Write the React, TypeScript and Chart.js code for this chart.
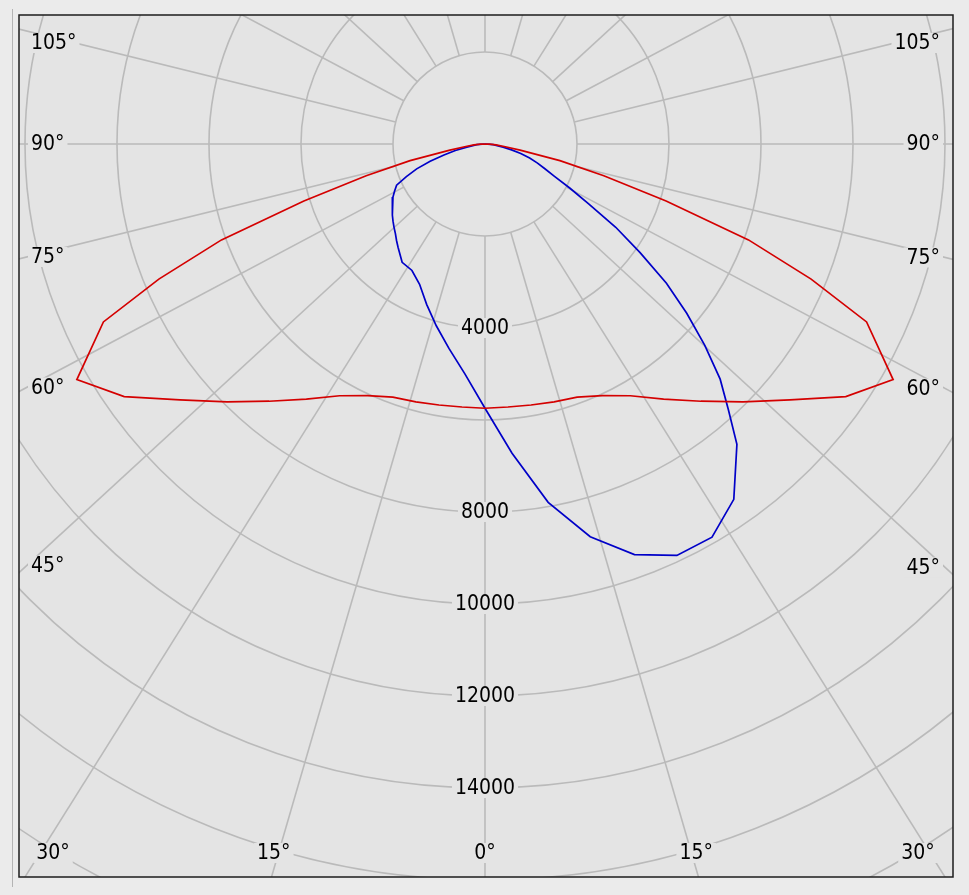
import React, { useEffect, useRef } from "react";
import { Chart, registerables } from "chart.js";

Chart.register(...registerables);

// ---- Data (luminous intensity, cd) ----
// Red plane (C0 / C180), angles from nadir in degrees
const redAngles = [0, 5, 10, 15, 20, 25, 30, 35, 40, 45, 50, 55, 60, 65, 67.5, 70, 72.5, 75, 77.5, 80, 82.5, 85, 87.5, 90];
const redC0 = [5745, 5740, 5762, 5805, 5858, 6035, 6320, 6770, 7300, 7930, 8655, 9575, 10245, 9153, 7674, 6096, 4128, 2674, 1668, 775, 420, 240, 100, 0];
const redC180 = [5745, 5740, 5762, 5805, 5858, 6035, 6320, 6770, 7300, 7930, 8655, 9575, 10245, 9153, 7674, 6096, 4128, 2674, 1668, 775, 420, 240, 100, 0];

// Blue plane (C90 right / C270 left)
const blueAngles = [0, 5, 10, 15, 20, 25, 30, 35, 40, 42.5, 45, 47.5, 50, 52.5, 55, 57.5, 60, 62.5, 65, 67.5, 70, 72.5, 75, 77.5, 80, 85, 90];
const blueC90 = [5745, 6750, 7910, 8840, 9500, 9870, 9870, 9430, 8520, 7830, 7230, 6481, 5725, 4972, 4116, 3370, 2595, 2084, 1667, 1409, 1215, 1018, 805, 592, 400, 180, 0];
const blueC270 = [5745, 5016, 4513, 4091, 3709, 3365, 3175, 3140, 2938, 2846, 2754, 2682, 2610, 2536, 2462, 2386, 2310, 2215, 2120, 1850, 1580, 1250, 923, 660, 400, 180, 0];

// Grid
const ringValues = [2000, 4000, 6000, 8000, 10000, 12000, 14000, 16000, 18000, 20000];
const ringLabelValues = [4000, 8000, 10000, 12000, 14000];
const angleLabels = [0, 15, 30, 45, 60, 75, 90, 105];
const spokeStep = 15;

// Axis extents (cd)
const X_MIN = -10130;
const X_MAX = 10174;
const Y_MIN = -15935;
const Y_MAX = 2804;

// ---- Styles ----
const OUTER_BG = "#ebebeb";
const PLOT_BG = "#e4e4e4";
const GRID_COLOR = "#bababa";
const RED = "#d40000";
const BLUE = "#0000c8";
const FONT = '21px "DejaVu Sans Condensed", "Liberation Sans", Arial, sans-serif';
const GRID_ASPECT = 0.92;
const SIDE_LABEL_ASPECT = 0.905;
const BOTTOM_LABEL_ASPECT = 0.93;

const rad = (d: number) => (d * Math.PI) / 180;

function planePoints(angles: number[], left: number[], right: number[]) {
  const pts: { x: number; y: number }[] = [];
  for (let i = angles.length - 1; i >= 0; i--) {
    const g = rad(angles[i]);
    pts.push({ x: -left[i] * Math.sin(g), y: -left[i] * Math.cos(g) });
  }
  for (let i = 1; i < angles.length; i++) {
    const g = rad(angles[i]);
    pts.push({ x: right[i] * Math.sin(g), y: -right[i] * Math.cos(g) });
  }
  return pts;
}

function boxLabel(ctx: CanvasRenderingContext2D, text: string, x: number, y: number, align: CanvasTextAlign) {
  const w = ctx.measureText(text).width;
  let bx = x - w / 2;
  if (align === "left") bx = x;
  if (align === "right") bx = x - w;
  ctx.fillStyle = PLOT_BG;
  ctx.fillRect(bx - 3, y - 10, w + 6, 20);
  ctx.fillStyle = "#000";
  ctx.textAlign = align;
  ctx.textBaseline = "middle";
  ctx.fillText(text, x, y + 1);
}

const polarGrid = {
  id: "polarGrid",
  beforeDatasetsDraw(chart: any) {
    const { ctx, chartArea: a, scales } = chart;
    const xs = scales.x;
    const ys = scales.y;
    const cx = xs.getPixelForValue(0);
    const cy = ys.getPixelForValue(0);
    const pxPer = (xs.getPixelForValue(1000) - cx) / 1000;

    ctx.save();
    ctx.fillStyle = PLOT_BG;
    ctx.fillRect(a.left, a.top, a.right - a.left, a.bottom - a.top);
    ctx.beginPath();
    ctx.rect(a.left, a.top, a.right - a.left, a.bottom - a.top);
    ctx.clip();

    ctx.strokeStyle = GRID_COLOR;
    ctx.lineWidth = 1.6;
    for (const v of ringValues) {
      ctx.beginPath();
      ctx.arc(cx, cy, v * pxPer, 0, Math.PI * 2);
      ctx.stroke();
    }
    const r0 = ringValues[0] * pxPer;
    for (let deg = 0; deg < 360; deg += spokeStep) {
      const t = rad(deg);
      let dx = Math.sin(t);
      let dy = GRID_ASPECT * Math.cos(t);
      const n = Math.hypot(dx, dy);
      dx /= n;
      dy /= n;
      ctx.beginPath();
      ctx.moveTo(cx + dx * r0, cy + dy * r0);
      ctx.lineTo(cx + dx * 3000, cy + dy * 3000);
      ctx.stroke();
    }

    ctx.font = FONT;
    for (const v of ringLabelValues) {
      boxLabel(ctx, String(v), cx, ys.getPixelForValue(-v), "center");
    }

    for (const deg of angleLabels) {
      const sides = deg === 0 ? [1] : [-1, 1];
      for (const s of sides) {
        const t = rad(deg);
        const txt = deg + "\u00b0";
        const dyB = BOTTOM_LABEL_ASPECT * Math.cos(t);
        const dxB = Math.sin(t);
        const tBottom = dyB > 0 ? (a.bottom - cy) / dyB : Infinity;
        const sideDist = s < 0 ? cx - a.left : a.right - cx;
        const tSide = dxB > 1e-9 ? sideDist / dxB : Infinity;
        if (tBottom <= tSide) {
          let x = cx + s * dxB * tBottom;
          x = Math.max(a.left + 34, Math.min(a.right - 35, x));
          boxLabel(ctx, txt, x, a.bottom - 24, "center");
        } else {
          const yk = (SIDE_LABEL_ASPECT * Math.cos(t)) / Math.sin(t);
          let y = cy + sideDist * yk;
          y = Math.max(a.top + 28, Math.min(a.bottom - 40, y));
          if (s < 0) boxLabel(ctx, txt, a.left + 12, y, "left");
          else boxLabel(ctx, txt, a.right - 13, y, "right");
        }
      }
    }
    ctx.restore();
  },
  afterDraw(chart: any) {
    const { ctx, chartArea: a } = chart;
    ctx.save();
    ctx.strokeStyle = "#1c1c1c";
    ctx.lineWidth = 1.5;
    ctx.strokeRect(a.left, a.top, a.right - a.left, a.bottom - a.top);
    ctx.restore();
  },
};

export default function App() {
  const ref = useRef<HTMLCanvasElement>(null);
  useEffect(() => {
    if (!ref.current) return;
    const chart = new Chart(ref.current, {
      type: "scatter",
      data: {
        datasets: [
          {
            label: "C0 - C180",
            data: planePoints(redAngles, redC180, redC0),
            showLine: true,
            borderColor: RED,
            backgroundColor: RED,
            borderWidth: 1.7,
            pointRadius: 0,
            tension: 0,
          },
          {
            label: "C90 - C270",
            data: planePoints(blueAngles, blueC270, blueC90),
            showLine: true,
            borderColor: BLUE,
            backgroundColor: BLUE,
            borderWidth: 1.7,
            pointRadius: 0,
            tension: 0,
          },
        ],
      },
      options: {
        responsive: false,
        maintainAspectRatio: false,
        animation: false,
        events: [],
        layout: { padding: { left: 19, top: 15, right: 16, bottom: 18 } },
        scales: {
          x: { type: "linear", min: X_MIN, max: X_MAX, display: false },
          y: { type: "linear", min: Y_MIN, max: Y_MAX, display: false },
        },
        plugins: { legend: { display: false }, tooltip: { enabled: false } },
      },
      plugins: [polarGrid],
    } as any);
    return () => chart.destroy();
  }, []);

  return (
    <div style={{ position: "fixed", left: 0, top: 0, width: 969, height: 895, background: OUTER_BG, overflow: "hidden" }}>
      <div style={{ position: "absolute", left: 12, top: 9, width: 1, height: 878, background: "#b4b4b4" }} />
      <canvas ref={ref} width={969} height={895} style={{ position: "absolute", left: 0, top: 0 }} />
    </div>
  );
}
